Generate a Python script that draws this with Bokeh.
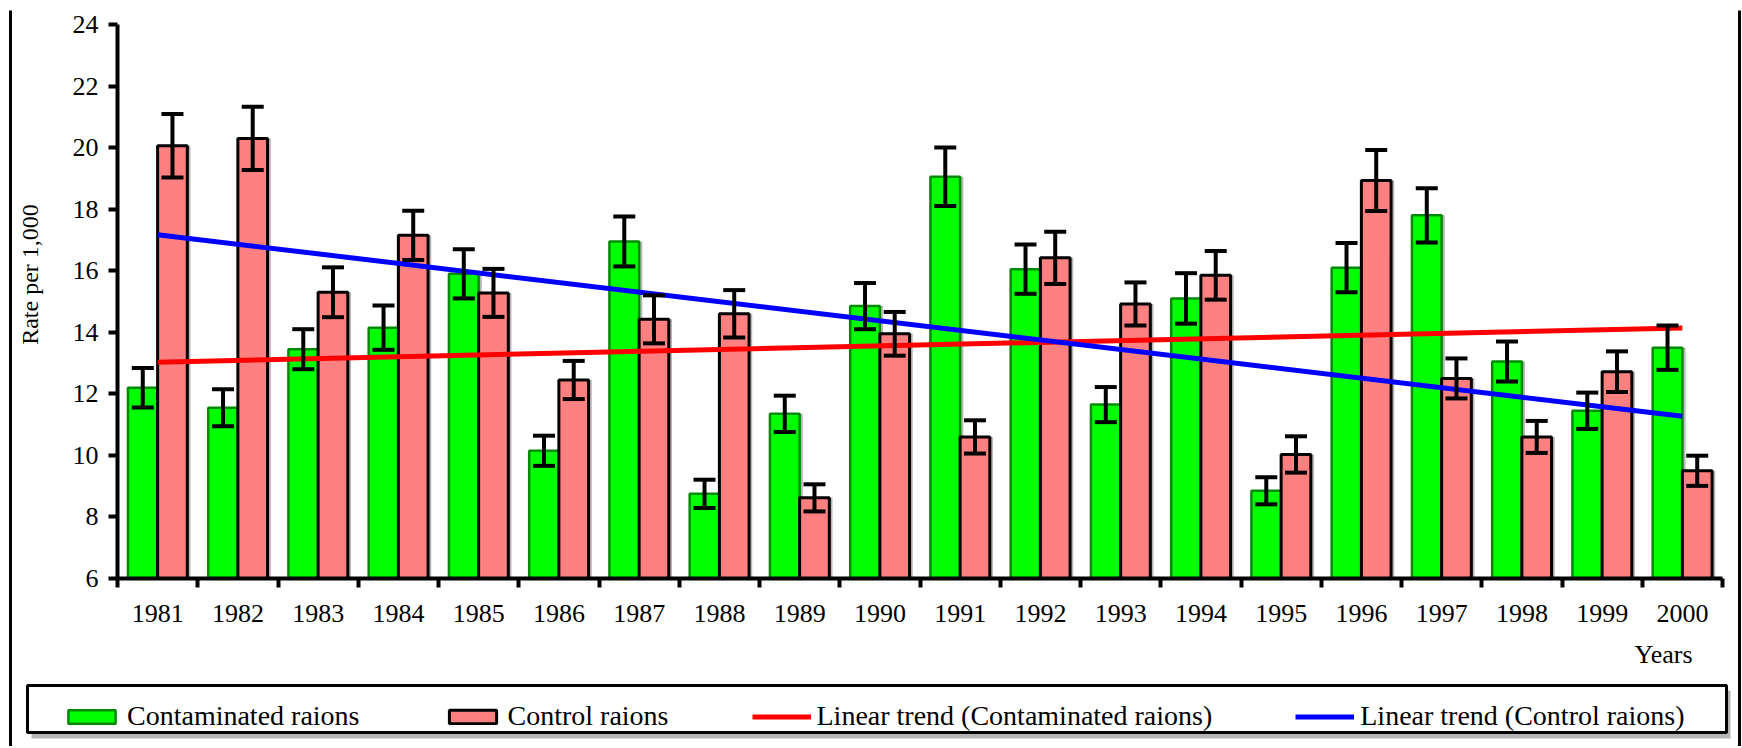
from bokeh.plotting import figure
from bokeh.models import (ColumnDataSource, FixedTicker, Whisker, TeeHead, Legend,
                          LegendItem, Label, BoxAnnotation)
from bokeh.embed import file_html
from bokeh.resources import INLINE

# ---------------- data ----------------
years = list(range(1981, 2001))
contaminated = [12.2, 11.55, 13.45, 14.15, 15.9, 10.15, 16.95, 8.75, 11.35, 14.85,
                19.05, 16.05, 11.65, 15.1, 8.85, 16.1, 17.8, 13.05, 11.45, 13.5]
control = [20.06, 20.3, 15.3, 17.15, 15.28, 12.45, 14.42, 14.6, 8.62, 13.95,
           10.6, 16.42, 14.92, 15.85, 10.03, 18.93, 12.5, 10.6, 12.72, 9.5]
contaminated_err = [0.64, 0.6, 0.65, 0.72, 0.8, 0.49, 0.81, 0.46, 0.59, 0.75,
                    0.95, 0.8, 0.57, 0.82, 0.44, 0.8, 0.88, 0.65, 0.59, 0.72]
control_err = [1.03, 1.03, 0.81, 0.8, 0.78, 0.62, 0.78, 0.77, 0.44, 0.71,
               0.54, 0.85, 0.7, 0.79, 0.59, 0.99, 0.65, 0.52, 0.66, 0.49]
trend_years = [1981, 2000]
trend_contaminated = [13.03, 14.14]
trend_control = [17.17, 11.27]
y_ticks = [6, 8, 10, 12, 14, 16, 18, 20, 22, 24]
series_names = ["Contaminated raions", "Control raions",
                "Linear trend (Contaminated raions)", "Linear trend (Control raions)"]
x_title = "Years"
y_title = "Rate per 1,000"

# ---------------- layout (pixels of the page) ----------------
FONT = "Liberation Serif"
W, H = 1741, 746
PLOT_L, PLOT_R, PLOT_T, PLOT_B = 117, 1722, 24, 578   # plotting area in page pixels
OFF, BW, SH = 0.185, 0.37, 0.04

x_lo, x_hi = years[0] - 0.5, years[-1] + 0.5
y_lo, y_hi = y_ticks[0], y_ticks[-1]
kx = (PLOT_R - PLOT_L) / (x_hi - x_lo)
ky = (PLOT_B - PLOT_T) / (y_hi - y_lo)
x_start = x_lo - PLOT_L / kx
y_end = y_hi + PLOT_T / ky


def dx(px):
    return x_start + px / kx


def dy(py):
    return y_end - py / ky


src = ColumnDataSource(dict(
    year=years,
    cont=contaminated,
    ctrl=control,
    cont_hi=[v + e for v, e in zip(contaminated, contaminated_err)],
    cont_lo=[v - e for v, e in zip(contaminated, contaminated_err)],
    ctrl_hi=[v + e for v, e in zip(control, control_err)],
    ctrl_lo=[v - e for v, e in zip(control, control_err)],
    xc=[y - OFF for y in years],
    xr=[y + OFF for y in years],
    xcs=[y - OFF + SH for y in years],
    xrs=[y + OFF + SH for y in years],
))

p = figure(width=W, height=H, title=None, min_border=0,
           x_range=(dx(0), dx(W)), y_range=(dy(H), dy(0)),
           output_backend="svg", toolbar_location=None)
p.background_fill_color = "white"
p.border_fill_color = "white"
p.outline_line_color = None
p.xgrid.visible = False
p.ygrid.visible = False

# page frame lines (left and right)
for a, b in ((8.5, 11.5), (1737.5, 1740.5)):
    p.add_layout(BoxAnnotation(left=dx(a), right=dx(b), bottom=dy(H + 5), top=dy(10),
                               fill_color="black", fill_alpha=1, line_color=None))

# shadows
p.vbar(x="xcs", top="cont", bottom=y_lo, width=BW, source=src,
       fill_color="#b8b8b8", line_color=None)
p.vbar(x="xrs", top="ctrl", bottom=y_lo, width=BW, source=src,
       fill_color="#b8b8b8", line_color=None)
# bars
g_bar = p.vbar(x="xc", top="cont", bottom=y_lo, width=BW, source=src,
               fill_color="#00FF00", line_color="#008a00", line_width=2.5)
r_bar = p.vbar(x="xr", top="ctrl", bottom=y_lo, width=BW, source=src,
               fill_color="#FF8080", line_color="black", line_width=3)

t_red = p.line(trend_years, trend_contaminated, line_color="#FF0000", line_width=5)
t_blue = p.line(trend_years, trend_control, line_color="#0000FF", line_width=5)

for base, up, lo in (("xc", "cont_hi", "cont_lo"), ("xr", "ctrl_hi", "ctrl_lo")):
    w = Whisker(base=base, upper=up, lower=lo, source=src, line_color="black", line_width=4,
                level="annotation",
                upper_head=TeeHead(size=22, line_width=4, line_color="black"),
                lower_head=TeeHead(size=22, line_width=4, line_color="black"))
    p.add_layout(w)

# axes, pinned to the data area
xa = p.xaxis[0]
xa.fixed_location = y_lo
xa.bounds = (x_lo, x_hi)
xa.ticker = FixedTicker(ticks=years, minor_ticks=[y - 0.5 for y in years] + [x_hi])
xa.major_tick_out = 0
xa.major_tick_in = 0
xa.minor_tick_out = 9
xa.minor_tick_in = 0
xa.minor_tick_line_width = 4
xa.minor_tick_line_color = "black"
xa.axis_line_width = 4
xa.axis_line_color = "black"
xa.major_label_text_font = FONT
xa.major_label_text_font_size = "26px"
xa.major_label_text_color = "black"
xa.major_label_standoff = 17

ya = p.yaxis[0]
ya.fixed_location = x_lo
ya.bounds = (y_lo, y_hi)
ya.ticker = FixedTicker(ticks=y_ticks, minor_ticks=[])
ya.major_tick_out = 9
ya.major_tick_in = 0
ya.major_tick_line_width = 4
ya.major_tick_line_color = "black"
ya.minor_tick_out = 0
ya.minor_tick_in = 0
ya.axis_line_width = 4
ya.axis_line_color = "black"
ya.major_label_text_font = FONT
ya.major_label_text_font_size = "26px"
ya.major_label_text_color = "black"
ya.major_label_standoff = 10

# axis titles
p.add_layout(Label(x=dx(29), y=dy(274), text=y_title, angle=90, angle_units="deg",
                   text_font=FONT, text_font_size="24px", text_color="black",
                   text_align="center", text_baseline="middle"))
p.add_layout(Label(x=dx(1692), y=dy(654), text=x_title, text_font=FONT, text_font_size="26px",
                   text_color="black", text_align="right", text_baseline="middle"))

# legend frame with its grey shadow
p.add_layout(BoxAnnotation(left=dx(31), right=dx(1730), bottom=dy(738), top=dy(690),
                           fill_color="#b4b4b4", fill_alpha=1, line_color=None))
p.add_layout(BoxAnnotation(left=dx(27), right=dx(1726), bottom=dy(732), top=dy(685),
                           fill_color="white", fill_alpha=1,
                           line_color="black", line_alpha=1, line_width=3))

legend = Legend(items=[LegendItem(label=series_names[0], renderers=[g_bar]),
                       LegendItem(label=series_names[1], renderers=[r_bar]),
                       LegendItem(label=series_names[2], renderers=[t_red]),
                       LegendItem(label=series_names[3], renderers=[t_blue])],
                orientation="horizontal", location=(62, 14),
                label_text_font=FONT, label_text_font_size="28px", label_text_color="black",
                glyph_width=59, glyph_height=17, spacing=83, padding=8, margin=0,
                label_standoff=6, border_line_color=None,
                background_fill_alpha=0)
p.add_layout(legend)

open("out.html", "w").write(file_html(p, INLINE))
